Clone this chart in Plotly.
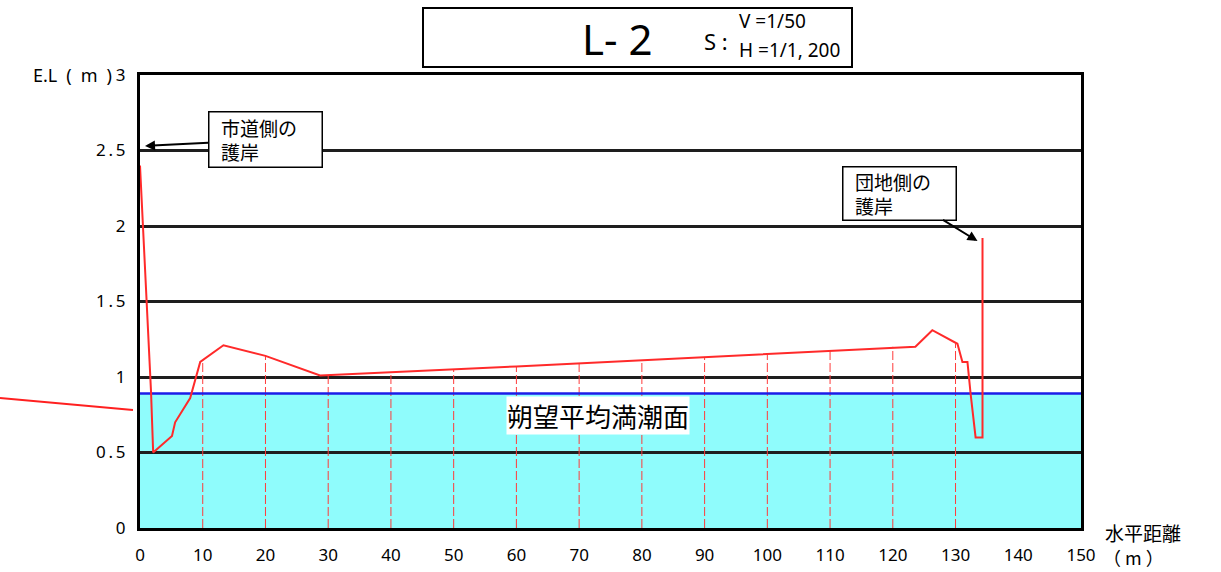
import plotly.graph_objects as go

# ---- data ----
profile_x = [0, 1.1, 1.75, 2.1, 5.1, 5.6, 8.0, 9.6, 11.2, 13.3, 20, 28.7, 60, 90,
             123.6, 126.3, 130.3, 131.1, 131.9, 132.4, 133.2, 134.3, 134.3]
profile_y = [2.40, 1.50, 0.91, 0.50, 0.61, 0.70, 0.86, 1.10, 1.15, 1.21, 1.14, 1.01, 1.07, 1.13,
             1.20, 1.31, 1.22, 1.10, 1.10, 0.89, 0.60, 0.60, 1.92]
station_x = [10, 20, 30, 40, 50, 60, 70, 80, 90, 100, 110, 120, 130]
station_top = [1.11, 1.14, 1.01, 1.03, 1.05, 1.07, 1.09, 1.11, 1.13, 1.15, 1.17, 1.20, 1.22]
mhw_level = 0.89
x_ticks = [0, 10, 20, 30, 40, 50, 60, 70, 80, 90, 100, 110, 120, 130, 140, 150]
y_ticks = [0, 0.5, 1, 1.5, 2, 2.5, 3]
y_ticktext = ["0", "0\u2009.\u20095", "1", "1\u2009.\u20095", "2", "2\u2009.\u20095", "3"]
x_range = [0, 150]
y_range = [0, 3]

NUM = "Noto Sans, DejaVu Sans, sans-serif"
JP = "Noto Sans CJK JP, Noto Sans, sans-serif"

fig = go.Figure()

# vertical dashed station lines
for sx, st in zip(station_x, station_top):
    fig.add_trace(go.Scatter(x=[sx, sx], y=[0, st], mode="lines",
                             line=dict(color="#ff3b3b", width=1, dash="9px,3px"),
                             hoverinfo="skip", showlegend=False))

# mean high water line
fig.add_trace(go.Scatter(x=x_range, y=[mhw_level, mhw_level], mode="lines",
                         line=dict(color="#1c1ce8", width=2.5), showlegend=False))

# ground profile
fig.add_trace(go.Scatter(x=profile_x, y=profile_y, mode="lines",
                         line=dict(color="#ff2a2a", width=2), showlegend=False))

# cyan water area (below gridlines)
fig.add_shape(type="rect", xref="x", yref="y", x0=x_range[0], x1=x_range[1],
              y0=0, y1=mhw_level, fillcolor="#8ffcfc", line=dict(width=0), layer="below")

PW, PH, L, T = 941, 453, 140, 75


def px(xp):
    return (xp - L) / PW


def py(yp):
    return (T + PH - yp) / PH


# title box
fig.add_shape(type="rect", xref="paper", yref="paper", x0=px(423), x1=px(852),
              y0=py(67), y1=py(8), line=dict(color="black", width=2), fillcolor="white")

# stray red line at left
fig.add_shape(type="line", xref="paper", yref="paper", x0=px(0), y0=py(398),
              x1=px(133), y1=py(410), line=dict(color="#ff2020", width=2))


def txt(x, y, text, size, family=NUM, xanchor="center"):
    return dict(xref="paper", yref="paper", x=px(x), y=py(y), text=text, showarrow=False,
                xanchor=xanchor, yanchor="middle",
                font=dict(family=family, size=size, color="black"))


ann = []
ann.append(txt(617, 38, "L- 2", 42))
ann.append(txt(716, 41, "S :", 22))
ann.append(txt(737, 21, "V =1/50", 19, xanchor="left"))
ann.append(txt(737, 50, "H =1/1, 200", 19, xanchor="left"))

# y axis title
ann.append(txt(114, 75, "E.L\u2002(\u2002m\u2002)", 18, xanchor="right"))
# x axis title
ann.append(txt(1103, 532, "水平距離", 19, family=JP, xanchor="left"))
ann.append(txt(1101, 557, "（ m ）", 18, family=JP, xanchor="left"))

# MHW label
ann.append(dict(x=73.0, y=0.748, text="朔望平均満潮面", showarrow=False,
                bgcolor="white", borderpad=0, font=dict(family=JP, size=26, color="black")))

# callouts
ann.append(dict(x=0.8, y=2.53, ax=120, ay=-6, text="&nbsp;&nbsp;市道側の<br>&nbsp;&nbsp;護岸",
                align="left", width=106, height=48, borderpad=3, bordercolor="black",
                borderwidth=1.5, bgcolor="white", showarrow=True, arrowhead=2, arrowsize=1,
                arrowwidth=2, arrowcolor="black", font=dict(family=JP, size=19, color="black")))
ann.append(dict(x=133.5, y=1.90, ax=-78, ay=-48, text="&nbsp;&nbsp;団地側の<br>&nbsp;&nbsp;護岸",
                align="left", width=106, height=46, borderpad=3, bordercolor="black",
                borderwidth=1.5, bgcolor="white", showarrow=True, arrowhead=2, arrowsize=1,
                arrowwidth=2, arrowcolor="black", font=dict(family=JP, size=19, color="black")))

fig.update_layout(
    width=1221, height=572,
    margin=dict(l=L, r=1221 - L - PW, t=T, b=572 - T - PH, autoexpand=False),
    paper_bgcolor="white", plot_bgcolor="white",
    annotations=ann,
    showlegend=False,
)
fig.update_xaxes(range=x_range, tickvals=x_ticks, ticktext=[str(v) for v in x_ticks],
                 showgrid=False, zeroline=False, showline=True, linecolor="black",
                 linewidth=3, mirror=True, ticks="", ticklabelstandoff=10,
                 tickfont=dict(family=NUM, size=17, color="black"))
fig.update_yaxes(range=y_range, tickvals=y_ticks, ticktext=y_ticktext,
                 showgrid=True, gridcolor="#1e1e1e", gridwidth=2.5, zeroline=False,
                 showline=True, linecolor="black", linewidth=3, mirror=True, ticks="",
                 ticklabelstandoff=8, tickfont=dict(family=NUM, size=17, color="black"))

fig.write_html("out.html", config={"displayModeBar": False},
               post_script="document.body.style.margin='0';")
